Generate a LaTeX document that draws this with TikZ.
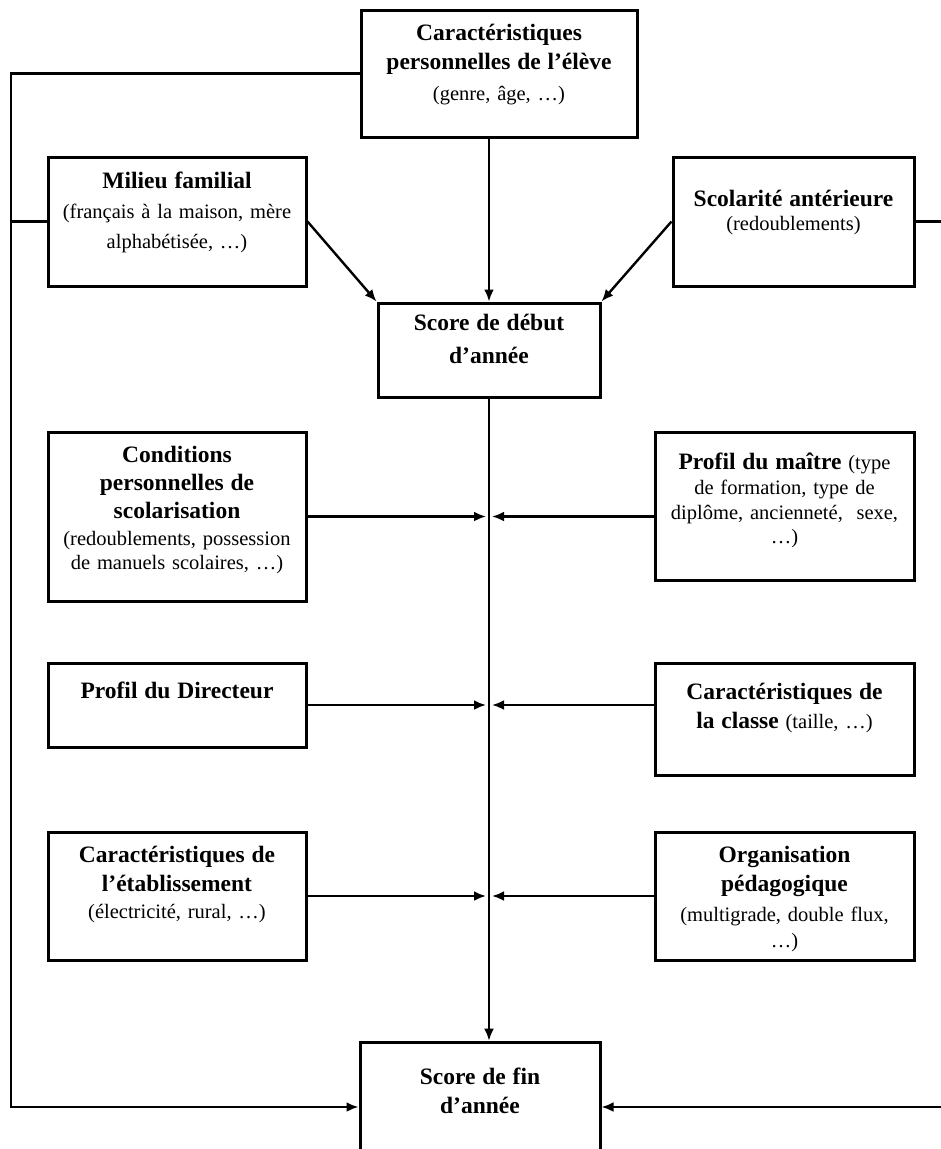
\documentclass[tikz,border=0pt]{standalone}
\usepackage{fontspec}
\setmainfont{Liberation Serif}
\usetikzlibrary{arrows.meta,positioning}

\lineskiplimit=-50pt
\tikzset{
    box/.style={draw, line width=3pt, inner sep=0pt},
    lbl/.style={inner sep=0pt, text width=250pt, align=center,
        font=\fontsize{20.5}{24}\selectfont},
    link/.style={line width=2.4pt},
    arr/.style={link, -{Latex[length=12pt,width=10pt]}},
}
\newcommand{\ttl}[1]{{\fontsize{23.5}{28}\selectfont\bfseries #1}}

\begin{document}
\begin{tikzpicture}[x=1pt,y=-1pt]
    \clip (0,0) rectangle (941,1149);
    \node[box, minimum width=276, minimum height=127] (perso) at (499,73.5) {};
    \node[box, minimum width=258, minimum height=129] (milieu) at (177,221.5) {};
    \node[box, minimum width=241, minimum height=129] (scol) at (793.5,221.5) {};
    \node[box, minimum width=222, minimum height=94] (debut) at (489,350) {};
    \node[box, minimum width=258, minimum height=169] (cond) at (177,516.5) {};
    \node[box, minimum width=259, minimum height=148] (maitre) at (784.5,506) {};
    \node[box, minimum width=258, minimum height=84] (dir) at (177,705) {};
    \node[box, minimum width=259, minimum height=112] (classe) at (784.5,719) {};
    \node[box, minimum width=258, minimum height=128] (etab) at (177,896) {};
    \node[box, minimum width=259, minimum height=128] (orga) at (784.5,896) {};
    \node[box, minimum width=240, minimum height=130] (fin) at (480,1107) {};

    \node[lbl, below=15.5pt of perso.north] (perso-t)
        {\ttl{Caractéristiques}\\[5pt]\ttl{personnelles de l’élève}\\[7pt](genre, âge, …)};
    \node[lbl, below=16.5pt of milieu.north] (milieu-t)
        {\ttl{Milieu familial}\\[6pt](français à la maison, mère\\[6pt]alphabétisée, …)};
    \node[lbl, below=34.5pt of scol.north] (scol-t)
        {\ttl{Scolarité antérieure}\\(redoublements)};
    \node[lbl, below=12.5pt of debut.north] (debut-t)
        {\ttl{Score de début}\\[9pt]\ttl{d’année}};
    \node[lbl, below=15.5pt of cond.north] (cond-t)
        {\ttl{Conditions}\\[4pt]\ttl{personnelles de}\\[4pt]\ttl{scolarisation}\\[3pt](redoublements, possession\\de manuels scolaires, …)};
    \node[lbl, below=22.5pt of maitre.north] (maitre-t)
        {\ttl{Profil du maître} (type\\[1pt]de formation, type de\\[1pt]diplôme, ancienneté,~ sexe,\\…)};
    \node[lbl, below=20pt of dir.north] (dir-t)
        {\ttl{Profil du Directeur}};
    \node[lbl, below=21.5pt of classe.north] (classe-t)
        {\ttl{Caractéristiques de}\\[5pt]\ttl{la classe} (taille, …)};
    \node[lbl, below=15.5pt of etab.north] (etab-t)
        {\ttl{Caractéristiques de}\\[5pt]\ttl{l’établissement}\\[3pt](électricité, rural, …)};
    \node[lbl, below=15.5pt of orga.north] (orga-t)
        {\ttl{Organisation}\\[5pt]\ttl{pédagogique}\\[6pt](multigrade, double flux,\\[2pt]…)};
    \node[lbl, below=27.5pt of fin.north] (fin-t)
        {\ttl{Score de fin}\\[5pt]\ttl{d’année}};

    \coordinate (lx) at (11,0);
    \coordinate (rx) at (942,0);
    \draw[arr] (perso.west) -- (perso.west -| lx) -- (lx |- fin.west) -- (fin.west);
    \draw[link] (milieu.west) -- (milieu.west -| lx);
    \draw[arr] (scol.east) -- (scol.east -| rx) -- (rx |- fin.east) -- (fin.east);

    \draw[arr] (milieu.east) -- (debut.north west);
    \draw[arr] (perso.south -| debut.north) -- (debut.north);
    \draw[arr] (scol.west) -- (debut.north east);
    \draw[arr, line width=1.6pt] (debut.south) -- (debut.south |- fin.north);

    \draw[arr, shorten >=3pt] (cond.east) -- (cond.east -| debut.south);
    \draw[arr, shorten >=3pt] (cond.east -| maitre.west) -- (cond.east -| debut.south);
    \draw[arr, shorten >=3pt] (dir.east) -- (dir.east -| debut.south);
    \draw[arr, shorten >=3pt] (dir.east -| classe.west) -- (dir.east -| debut.south);
    \draw[arr, shorten >=3pt] (etab.east) -- (etab.east -| debut.south);
    \draw[arr, shorten >=3pt] (orga.west) -- (orga.west -| debut.south);
\end{tikzpicture}
\end{document}
